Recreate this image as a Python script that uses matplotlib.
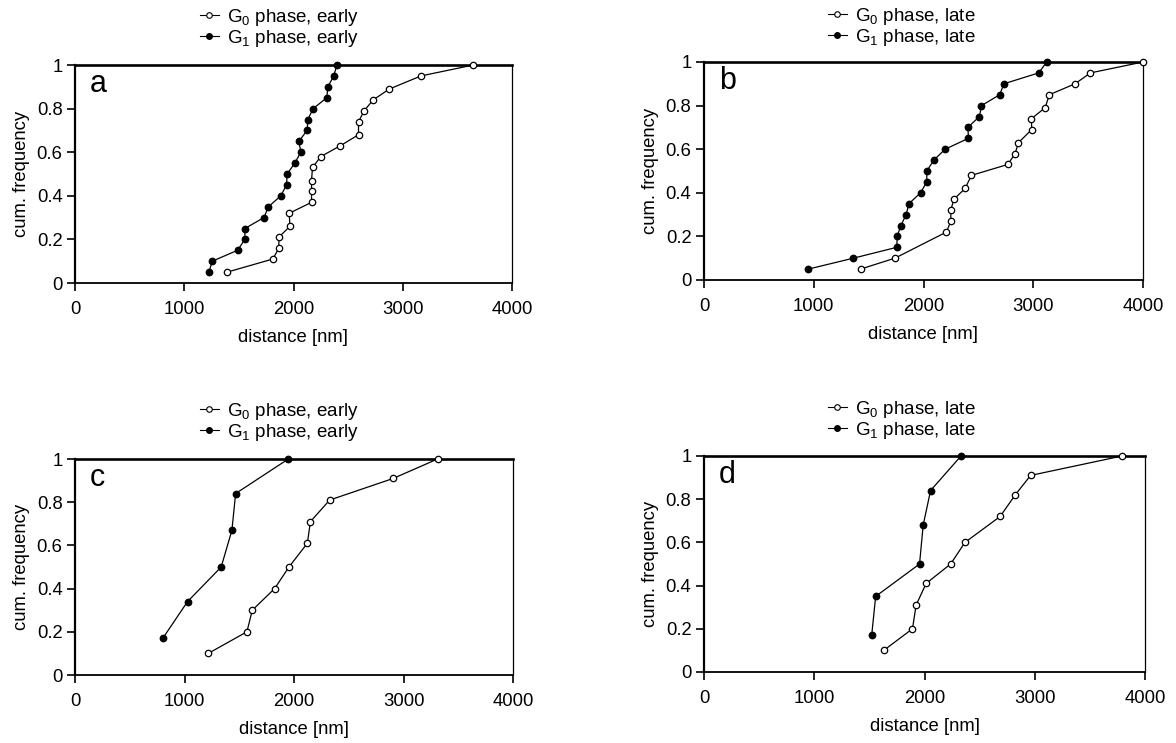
import matplotlib
matplotlib.use("Agg")
import matplotlib.pyplot as plt
from matplotlib.ticker import FormatStrFormatter
from matplotlib.lines import Line2D

plt.rcParams['font.family'] = ['Liberation Sans', 'DejaVu Sans']
plt.rcParams['mathtext.default'] = 'regular'

# panel a: early, G0 (open) and G1 (filled)
a_g0_x = [1393, 1811, 1866, 1866, 1967, 1961, 2165, 2165, 2165, 2174, 2250,
          2430, 2595, 2595, 2647, 2729, 2878, 3168, 3647]
a_g0_y = [0.05, 0.11, 0.16, 0.21, 0.26, 0.32, 0.37, 0.42, 0.47, 0.53, 0.58,
          0.63, 0.68, 0.74, 0.79, 0.84, 0.89, 0.95, 1.0]
a_g1_x = [1226, 1256, 1488, 1555, 1555, 1729, 1771, 1884, 1936, 1942, 2012,
          2067, 2049, 2125, 2131, 2180, 2305, 2314, 2369, 2397]
a_g1_y = [0.05, 0.10, 0.15, 0.20, 0.25, 0.30, 0.35, 0.40, 0.45, 0.50, 0.55,
          0.60, 0.65, 0.70, 0.75, 0.80, 0.85, 0.90, 0.95, 1.0]

# panel b: late
b_g0_x = [1426, 1739, 2209, 2249, 2249, 2276, 2379, 2437, 2768, 2835, 2865,
          2986, 2983, 3108, 3147, 3381, 3521, 4000]
b_g0_y = [0.05, 0.10, 0.22, 0.27, 0.32, 0.37, 0.42, 0.48, 0.53, 0.58, 0.63,
          0.69, 0.74, 0.79, 0.85, 0.90, 0.95, 1.0]
b_g1_x = [950, 1360, 1757, 1760, 1794, 1842, 1867, 1973, 2030, 2030, 2094,
          2197, 2410, 2404, 2510, 2528, 2695, 2732, 3050, 3123]
b_g1_y = [0.05, 0.10, 0.15, 0.20, 0.25, 0.30, 0.35, 0.40, 0.45, 0.50, 0.55,
          0.60, 0.65, 0.70, 0.75, 0.80, 0.85, 0.90, 0.95, 1.0]

# panel c: early
c_g0_x = [1217, 1570, 1619, 1823, 1954, 2122, 2150, 2326, 2906, 3311]
c_g0_y = [0.1, 0.2, 0.3, 0.4, 0.5, 0.61, 0.71, 0.81, 0.91, 1.0]
c_g1_x = [802, 1028, 1335, 1433, 1467, 1948]
c_g1_y = [0.17, 0.34, 0.5, 0.67, 0.84, 1.0]

# panel d: late
d_g0_x = [1630, 1891, 1924, 2015, 2237, 2367, 2686, 2823, 2962, 3791]
d_g0_y = [0.1, 0.2, 0.31, 0.41, 0.5, 0.6, 0.72, 0.82, 0.91, 1.0]
d_g1_x = [1521, 1557, 1955, 1988, 2055, 2331]
d_g1_y = [0.17, 0.35, 0.5, 0.68, 0.84, 1.0]

panels = [
    ('a', a_g0_x, a_g0_y, a_g1_x, a_g1_y, 'early'),
    ('b', b_g0_x, b_g0_y, b_g1_x, b_g1_y, 'late'),
    ('c', c_g0_x, c_g0_y, c_g1_x, c_g1_y, 'early'),
    ('d', d_g0_x, d_g0_y, d_g1_x, d_g1_y, 'late'),
]

W, H = 1176, 743
fig = plt.figure(figsize=(W / 100, H / 100), dpi=100)

# axes boxes in pixels: left, right, top, bottom
boxes = [(75, 512, 65, 283), (704, 1143, 62, 280),
         (75, 513, 459, 675), (704, 1145, 456, 672)]
legend_pos = [(200, 7), (828, 6), (200, 401), (828, 399)]

for (letter, g0x, g0y, g1x, g1y, stage), box, lp in zip(panels, boxes, legend_pos):
    l, r, t, b = box
    ax = fig.add_axes([l / W, 1 - b / H, (r - l) / W, (b - t) / H])

    ax.plot(g0x, g0y, '-o', color='black', lw=0.9, ms=4.6, mfc='white',
            mec='black', mew=0.9, clip_on=False, zorder=3)
    ax.plot(g1x, g1y, '-o', color='black', lw=0.9, ms=4.6, mfc='black',
            mec='black', clip_on=False, zorder=3)

    ax.set_xlim(0, 4000)
    ax.set_ylim(0, 1)
    ax.set_xticks([0, 1000, 2000, 3000, 4000])
    ax.set_yticks([0, 0.2, 0.4, 0.6, 0.8, 1.0])
    ax.yaxis.set_major_formatter(FormatStrFormatter('%g'))
    ax.tick_params(direction='out', length=6, width=1.2, labelsize=13.3)
    ax.tick_params(axis='x', pad=7)
    ax.tick_params(axis='y', pad=3)

    ax.spines['top'].set_linewidth(1.9)
    ax.spines['left'].set_linewidth(1.6)
    ax.spines['bottom'].set_linewidth(1.3)
    ax.spines['right'].set_linewidth(0.9)

    ax.set_xlabel('distance [nm]', fontsize=13.3, labelpad=8)
    ax.set_ylabel('cum. frequency', fontsize=13.3, labelpad=5)

    ax.text(0.034, 0.876, letter, transform=ax.transAxes, fontsize=22,
            va='baseline', ha='left')

    h0 = Line2D([], [], color='black', lw=0.8, marker='o', ms=4,
                mfc='white', mec='black', mew=0.8)
    h1 = Line2D([], [], color='black', lw=0.8, marker='o', ms=4,
                mfc='black', mec='black')
    fig.legend([h0, h1],
               [r'G$_0$ phase, ' + stage, r'G$_1$ phase, ' + stage],
               loc='upper left', bbox_to_anchor=(lp[0] / W, 1 - lp[1] / H),
               frameon=False, fontsize=13.5, handlelength=1.0,
               handletextpad=0.45, labelspacing=0.0, borderpad=0,
               borderaxespad=0)

fig.savefig('out.png', dpi=100)
